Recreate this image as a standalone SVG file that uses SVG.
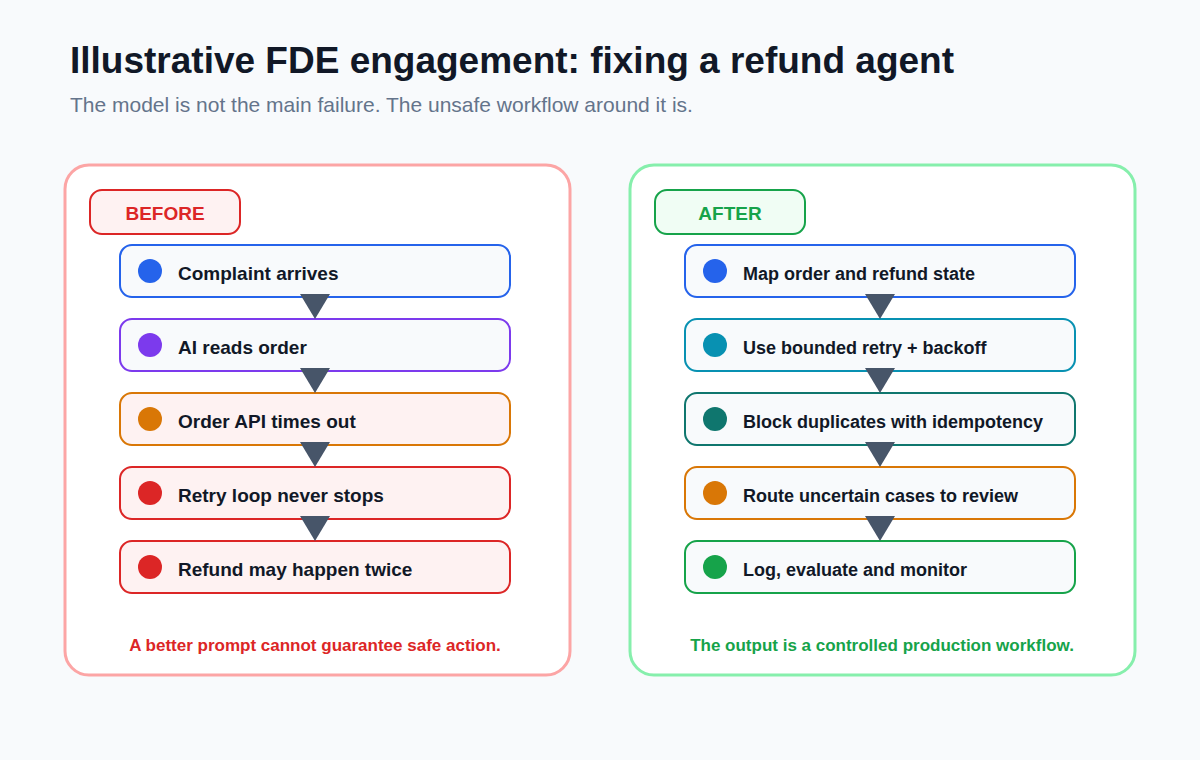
<svg xmlns="http://www.w3.org/2000/svg" width="1200" height="760" viewBox="0 0 1200 760">
<style>
text{font-family:"Liberation Sans",Arial,sans-serif}
.t{font-size:19px;font-weight:bold;fill:#111827}
.s{font-size:18px;font-weight:bold;fill:#111827}
.b{stroke-width:2}
.conn{stroke:#475569;stroke-width:3}
</style>
<defs><marker id="ah" viewBox="0 0 30 26" refX="15" refY="25" markerWidth="30" markerHeight="26" markerUnits="userSpaceOnUse" orient="auto-start-reverse"><path d="M0,0 L30,0 L15,26 Z" fill="#475569" transform="rotate(-90 15 13) translate(0 0)"/></marker>
<path id="tri" d="M-15,0 L15,0 L0,25 Z" fill="#475569"/></defs>
<rect width="1200" height="760" fill="#f8fafc"/>
<text x="70" y="73" font-size="37" font-weight="bold" fill="#111827">Illustrative FDE engagement: fixing a refund agent</text>
<text x="70" y="112" font-size="21" fill="#64748b">The model is not the main failure. The unsafe workflow around it is.</text>
<g id="before">
<rect x="65" y="165" width="505" height="510" rx="24" fill="#fff" stroke="#fca5a5" stroke-width="3"/>
<rect x="90" y="190" width="150" height="44" rx="12" fill="#fef2f2" stroke="#dc2626" class="b"/>
<text x="165" y="220" text-anchor="middle" font-size="19" font-weight="bold" fill="#dc2626">BEFORE</text>
<text x="315" y="651" text-anchor="middle" font-size="17" font-weight="bold" fill="#dc2626">A better prompt cannot guarantee safe action.</text>
</g>
<g id="after">
<rect x="630" y="165" width="505" height="510" rx="24" fill="#fff" stroke="#86efac" stroke-width="3"/>
<rect x="655" y="190" width="150" height="44" rx="12" fill="#f0fdf4" stroke="#16a34a" class="b"/>
<text x="730" y="220" text-anchor="middle" font-size="19" font-weight="bold" fill="#16a34a">AFTER</text>
<text x="882" y="651" text-anchor="middle" font-size="17" font-weight="bold" fill="#16a34a">The output is a controlled production workflow.</text>
</g>
<g id="b1"><rect x="120" y="245" width="390" height="52" rx="12" fill="#f8fafc" stroke="#2563eb" class="b"/><circle cx="150" cy="271" r="12" fill="#2563eb"/><text x="178" y="280" class="t">Complaint arrives</text></g>
<g id="b2"><rect x="120" y="319" width="390" height="52" rx="12" fill="#f8fafc" stroke="#7c3aed" class="b"/><circle cx="150" cy="345" r="12" fill="#7c3aed"/><text x="178" y="354" class="t">AI reads order</text></g>
<g id="b3"><rect x="120" y="393" width="390" height="52" rx="12" fill="#fef2f2" stroke="#d97706" class="b"/><circle cx="150" cy="419" r="12" fill="#d97706"/><text x="178" y="428" class="t">Order API times out</text></g>
<g id="b4"><rect x="120" y="467" width="390" height="52" rx="12" fill="#fef2f2" stroke="#dc2626" class="b"/><circle cx="150" cy="493" r="12" fill="#dc2626"/><text x="178" y="502" class="t">Retry loop never stops</text></g>
<g id="b5"><rect x="120" y="541" width="390" height="52" rx="12" fill="#fef2f2" stroke="#dc2626" class="b"/><circle cx="150" cy="567" r="12" fill="#dc2626"/><text x="178" y="576" class="t">Refund may happen twice</text></g>
<g id="a1"><rect x="685" y="245" width="390" height="52" rx="12" fill="#f8fafc" stroke="#2563eb" class="b"/><circle cx="715" cy="271" r="12" fill="#2563eb"/><text x="743" y="280" class="s">Map order and refund state</text></g>
<g id="a2"><rect x="685" y="319" width="390" height="52" rx="12" fill="#f8fafc" stroke="#0891b2" class="b"/><circle cx="715" cy="345" r="12" fill="#0891b2"/><text x="743" y="354" class="s">Use bounded retry + backoff</text></g>
<g id="a3"><rect x="685" y="393" width="390" height="52" rx="12" fill="#f8fafc" stroke="#0f766e" class="b"/><circle cx="715" cy="419" r="12" fill="#0f766e"/><text x="743" y="428" class="s">Block duplicates with idempotency</text></g>
<g id="a4"><rect x="685" y="467" width="390" height="52" rx="12" fill="#f8fafc" stroke="#d97706" class="b"/><circle cx="715" cy="493" r="12" fill="#d97706"/><text x="743" y="502" class="s">Route uncertain cases to review</text></g>
<g id="a5"><rect x="685" y="541" width="390" height="52" rx="12" fill="#f8fafc" stroke="#16a34a" class="b"/><circle cx="715" cy="567" r="12" fill="#16a34a"/><text x="743" y="576" class="s">Log, evaluate and monitor</text></g>
<g id="connectors">
<use href="#tri" x="315" y="294"/><use href="#tri" x="315" y="368"/><use href="#tri" x="315" y="442"/><use href="#tri" x="315" y="516"/>
<use href="#tri" x="880" y="294"/><use href="#tri" x="880" y="368"/><use href="#tri" x="880" y="442"/><use href="#tri" x="880" y="516"/>
</g>
</svg>
